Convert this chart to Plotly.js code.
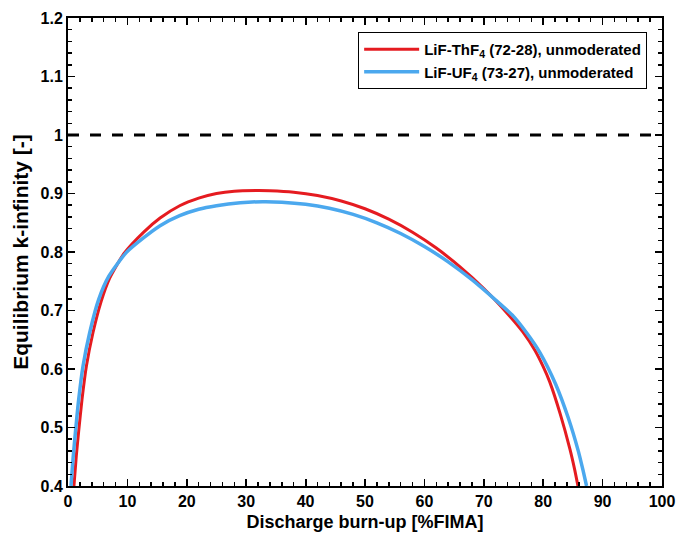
<!DOCTYPE html>
<html>
<head>
<meta charset="utf-8">
<script src="https://cdn.plot.ly/plotly-3.0.1.min.js"></script>
<style>html,body{margin:0;padding:0;background:#fff;}#chart{width:690px;height:540px;}</style>
</head>
<body>
<div id="chart"></div>
<script>
// LiF-ThF4 (72-28), unmoderated
const thX = [1.0, 1.4, 1.8, 2.36, 3.1, 4.2, 5.56, 7.0, 9.4, 12.75, 15.5, 18.8, 22, 25, 28, 31.7, 34, 38, 42, 46, 50, 54, 58, 62, 66, 70, 74, 76.6, 78.6, 80.0, 81.1, 82.9, 84.5, 85.3, 85.85];
const thY = [0.40, 0.452, 0.494, 0.548, 0.605, 0.662, 0.715, 0.755, 0.797, 0.834, 0.858, 0.879, 0.892, 0.900, 0.904, 0.905, 0.9047, 0.9023, 0.8966, 0.8872, 0.8739, 0.8561, 0.8338, 0.8067, 0.7746, 0.7376, 0.6945, 0.663, 0.632, 0.604, 0.578, 0.522, 0.463, 0.428, 0.400];
// LiF-UF4 (73-27), unmoderated
const uX = [0.5, 0.85, 1.24, 1.8, 2.53, 3.65, 5.17, 6.9, 9.8, 12.75, 15.5, 18.8, 22, 25, 29, 32.8, 36, 40, 44, 48, 52, 56, 60, 64, 68, 72, 75, 77.2, 79.4, 82.1, 84.2, 85.9, 86.7, 87.3];
const uY = [0.40, 0.447, 0.491, 0.548, 0.605, 0.662, 0.719, 0.759, 0.799, 0.8245, 0.845, 0.862, 0.873, 0.879, 0.884, 0.886, 0.8852, 0.8816, 0.8747, 0.8642, 0.8499, 0.8317, 0.8094, 0.7832, 0.7526, 0.7177, 0.690, 0.662, 0.629, 0.574, 0.517, 0.460, 0.427, 0.400];
// Criticality reference
const critX = [0, 100];
const critY = [1, 1];

const names = ['LiF-ThF<sub>4</sub> (72-28), unmoderated', 'LiF-UF<sub>4</sub> (73-27), unmoderated'];

const font = {family: 'Liberation Sans, Arial, sans-serif', color: '#000'};

const traces = [
  {x: critX, y: critY, mode: 'lines', showlegend: false, hoverinfo: 'skip',
   line: {color: '#000', width: 3, dash: '11px,11px'}},
  {x: thX, y: thY, mode: 'lines', name: names[0],
   line: {color: '#e51b20', width: 3, shape: 'spline', smoothing: 0.6}},
  {x: uX, y: uY, mode: 'lines', name: names[1],
   line: {color: '#4ba8ee', width: 3.5, shape: 'spline', smoothing: 0.6}}
];

const axisCommon = {
  showgrid: false, zeroline: false, showline: true, mirror: 'ticks',
  linecolor: '#000', linewidth: 2, ticks: 'inside', ticklen: 7, tickwidth: 1.8, tickcolor: '#000',
  tickfont: Object.assign({}, font, {size: 16, weight: 'bold'})
};

const layout = {
  width: 690, height: 540,
  margin: {l: 68, r: 28, t: 18, b: 54},
  paper_bgcolor: '#fff', plot_bgcolor: '#fff',
  font: font,
  xaxis: Object.assign({}, axisCommon, {
    range: [0, 100], dtick: 10, tick0: 0,
    minor: {dtick: 2, ticks: 'inside', ticklen: 4, tickwidth: 1.5, tickcolor: '#000'},
    title: {text: 'Discharge burn-up [%FIMA]', font: Object.assign({}, font, {size: 18, weight: 'bold'}), standoff: 6}
  }),
  yaxis: Object.assign({}, axisCommon, {
    range: [0.4, 1.2], dtick: 0.1, tick0: 0.4,
    minor: {dtick: 0.02, ticks: 'inside', ticklen: 4, tickwidth: 1.5, tickcolor: '#000'},
    title: {text: 'Equilibrium k-infinity [-]', font: Object.assign({}, font, {size: 21, weight: 'bold'}), standoff: 6}
  }),
  legend: {
    x: 0.975, y: 0.97, xanchor: 'right', yanchor: 'top',
    bgcolor: '#fff', bordercolor: '#000', borderwidth: 1,
    font: Object.assign({}, font, {size: 15, weight: 'bold'}),
    itemwidth: 55, tracegroupgap: 0
  }
};

Plotly.newPlot('chart', traces, layout, {displayModeBar: false, staticPlot: true});
</script>
</body>
</html>
